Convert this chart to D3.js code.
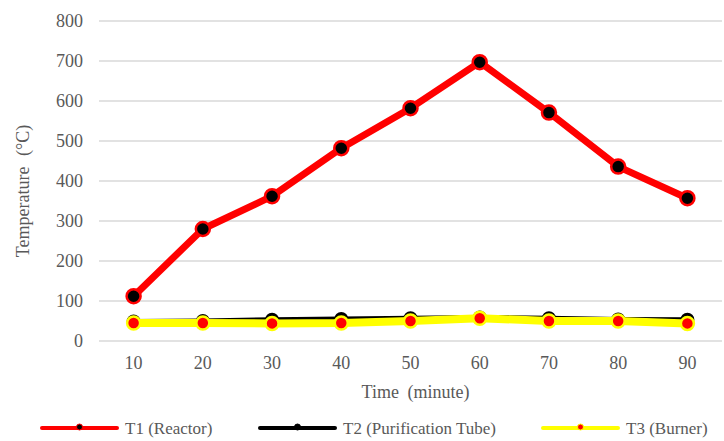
<!DOCTYPE html>
<html lang="en">
    <head>
        <meta charset="utf-8">
        <title>Temperature vs time</title>
        <script type="text/javascript" src="https://d3js.org/d3.v7.min.js"></script>
        <style type="text/css">
            body { margin: 0; background: #fff; }
        </style>
    </head>
    <body>
        <div id="chart"></div>
        <script type="text/javascript">

            // data
            var times = [10, 20, 30, 40, 50, 60, 70, 80, 90];
            var t1 = [112, 280, 362, 482, 582, 697, 571, 436, 357];
            var t2 = [49, 50, 53, 55, 57, 59, 57, 54, 53];
            var t3 = [45, 45, 44, 45, 50, 57, 50, 50, 44];
            var yTicks = [0, 100, 200, 300, 400, 500, 600, 700, 800];

            var FONT = "'Liberation Serif', 'Times New Roman', 'DejaVu Serif', serif";

            var series = [
                {name: "T1 (Reactor)", values: t1, line: "#ff0000", width: 7, fill: "#000000", stroke: "#ff0000", r: 7, sw: 2.5},
                {name: "T2 (Purification Tube)", values: t2, line: "#000000", width: 5, fill: "#000000", stroke: "#000000", r: 6, sw: 2},
                {name: "T3 (Burner)", values: t3, line: "#ffff00", width: 8, fill: "#ff0000", stroke: "#ffff00", r: 6.5, sw: 2.5}
            ];

            var W = 724, H = 441;
            var margin = {top: 21, right: 2, bottom: 100, left: 99},
                width = W - margin.left - margin.right,
                height = H - margin.top - margin.bottom;

            var svg = d3.select("#chart")
                .append("svg")
                    .attr("width", W)
                    .attr("height", H)
                    .style("font-family", FONT);
            var g = svg.append("g")
                .attr("transform", "translate(" + margin.left + "," + margin.top + ")");

            var x = d3.scaleBand()
                .domain(times)
                .range([0, width]);
            var y = d3.scaleLinear()
                .domain([0, 800])
                .range([height, 0]);

            // gridlines
            g.selectAll(".grid")
                .data(yTicks)
                .enter().append("line")
                    .attr("x1", 0)
                    .attr("x2", width)
                    .attr("y1", d => y(d))
                    .attr("y2", d => y(d))
                    .attr("stroke", "#d9d9d9")
                    .attr("stroke-width", 1.5);

            // y axis labels
            var yAxis = g.append("g")
                .call(d3.axisLeft(y).tickValues(yTicks).tickSize(0).tickPadding(16));
            yAxis.attr("font-family", null);
            yAxis.select(".domain").remove();
            yAxis.selectAll("text")
                .style("font-family", FONT)
                .style("font-size", "18px")
                .attr("fill", "#595959");

            // x axis labels
            var xAxis = g.append("g")
                .attr("transform", "translate(0," + height + ")")
                .call(d3.axisBottom(x).tickSize(0).tickPadding(15));
            xAxis.attr("font-family", null);
            xAxis.select(".domain").remove();
            xAxis.selectAll("text")
                .style("font-family", FONT)
                .style("font-size", "18px")
                .attr("fill", "#595959");

            // axis titles
            svg.append("text")
                .attr("transform", "translate(29," + (margin.top + height / 2 + 10) + ") rotate(-90)")
                .attr("text-anchor", "middle")
                .attr("fill", "#595959")
                .style("font-family", FONT)
                .style("font-size", "18px")
                .style("word-spacing", "6px")
                .text("Temperature (°C)");
            svg.append("text")
                .attr("x", margin.left + width / 2 + 5)
                .attr("y", 398)
                .attr("text-anchor", "middle")
                .attr("fill", "#595959")
                .style("font-family", FONT)
                .style("font-size", "18px")
                .style("word-spacing", "4px")
                .text("Time (minute)");

            var line = d3.line()
                .x((d, i) => x(times[i]) + x.bandwidth() / 2)
                .y(d => y(d));

            // lines and markers, series in order so T3 lands on top
            series.forEach(function(s) {
                g.append("path")
                    .datum(s.values)
                    .attr("fill", "none")
                    .attr("stroke", s.line)
                    .attr("stroke-width", s.width)
                    .attr("stroke-linejoin", "round")
                    .attr("d", line);
                g.selectAll(null)
                    .data(s.values)
                    .enter().append("circle")
                        .attr("cx", (d, i) => x(times[i]) + x.bandwidth() / 2)
                        .attr("cy", d => y(d))
                        .attr("r", s.r)
                        .attr("fill", s.fill)
                        .attr("stroke", s.stroke)
                        .attr("stroke-width", s.sw);
            });

            // legend
            var legendX = [42, 260, 543];
            var legend = svg.selectAll(".legend")
                .data(series)
                .enter().append("g")
                    .attr("transform", (d, i) => "translate(" + legendX[i] + ",428)");
            legend.append("line")
                .attr("x1", 0)
                .attr("x2", 75)
                .attr("stroke", d => d.line)
                .attr("stroke-width", 4)
                .attr("stroke-linecap", "round");
            legend.append("circle")
                .attr("cx", 37.5)
                .attr("cy", -1)
                .attr("r", 3)
                .attr("fill", d => d.fill)
                .attr("stroke", d => d.stroke)
                .attr("stroke-width", 1);
            legend.append("text")
                .attr("x", 83)
                .attr("y", 6)
                .attr("fill", "#595959")
                .style("font-family", FONT)
                .style("font-size", "17px")
                .text(d => d.name);
        </script>
    </body>
</html>
